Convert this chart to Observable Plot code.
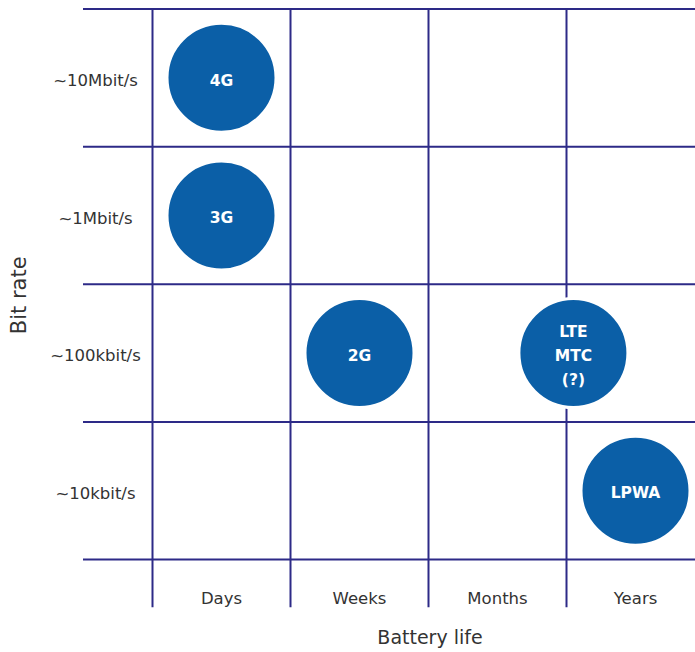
<!DOCTYPE html>
<html>
<head>
<meta charset="utf-8">
<script src="https://cdn.jsdelivr.net/npm/d3@7"></script>
<script src="https://cdn.jsdelivr.net/npm/@observablehq/plot@0.6"></script>
<style>
  html, body { margin: 0; padding: 0; background: #fff; }
</style>
</head>
<body>
<div id="chart"></div>
<script>
// Categories
const batteryLife = ["Days", "Weeks", "Months", "Years"];
const bitRates = ["~10Mbit/s", "~1Mbit/s", "~100kbit/s", "~10kbit/s"];
// Technologies: column position (battery life index) and row (bit rate index)
const techNames = ["4G", "3G", "2G", "LTE\nMTC\n(?)", "LPWA"];
const techBattery = [0, 0, 1, 2.55, 3];
const techRate = [0, 1, 2, 2, 3];
// Axis titles
const xTitle = "Battery life";
const yTitle = "Bit rate";

const techs = techNames.map((name, i) => ({name, battery: techBattery[i], rate: techRate[i]}));
const colBounds = d3.range(batteryLife.length + 1).map(i => i - 0.5);
const rowBounds = d3.range(bitRates.length + 1).map(i => i - 0.5);

const gridColor = "#2d2a87";
const bubbleColor = "#0b5fa7";

const chart = Plot.plot({
  width: 695,
  height: 652,
  marginLeft: 152,
  marginRight: 0,
  marginTop: 8.5,
  marginBottom: 93,
  style: {fontFamily: "DejaVu Sans", fontSize: "16.5px", color: "#333", background: "#fff"},
  x: {domain: [-0.5, 3.5], range: [152, 704]},
  y: {domain: [-0.5, 3.5], range: [8.5, 559]},
  marks: [
    Plot.ruleY(rowBounds, {y: d => d, x1: -1.0, x2: 3.6, stroke: gridColor, strokeWidth: 2}),
    Plot.ruleX(colBounds, {x: d => d, y1: -0.5, y2: 3.85, stroke: gridColor, strokeWidth: 2}),
    Plot.dot(techs, {x: "battery", y: "rate", r: 54.5, fill: bubbleColor, stroke: "#fff", strokeWidth: 3}),
    Plot.text(techs, {x: "battery", y: "rate", text: "name", fill: "#fff", fontWeight: "bold", fontSize: 15.5, lineHeight: 1.55}),
    Plot.axisX({ticks: d3.range(batteryLife.length), tickFormat: i => batteryLife[i], tickSize: 0, tickPadding: 33, label: null, fontSize: 16.5}),
    Plot.axisY({ticks: d3.range(bitRates.length), tickFormat: i => bitRates[i], tickSize: 0, tickPadding: 57, textAnchor: "middle", dy: 3, label: null, fontSize: 16.5}),
    Plot.text([xTitle], {frameAnchor: "bottom", dx: 6, dy: 84, fontSize: 19, fill: "#333"}),
    Plot.text([yTitle], {frameAnchor: "left", rotate: -90, dx: -133, dy: 50, fontSize: 21, fill: "#333"})
  ]
});
document.getElementById("chart").appendChild(chart);
</script>
</body>
</html>
